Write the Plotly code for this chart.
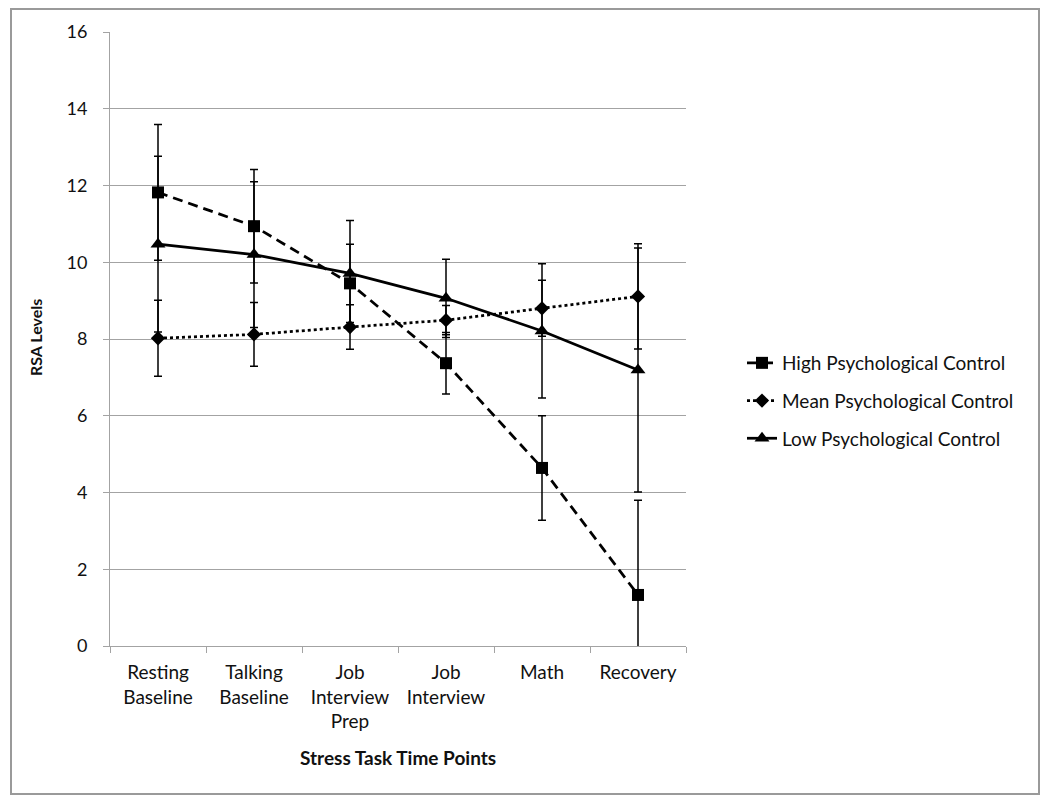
import plotly.graph_objects as go

# x categories (stress task time points)
time_points = ['Resting<br>Baseline', 'Talking<br>Baseline', 'Job<br>Interview<br>Prep',
               'Job<br>Interview', 'Math', 'Recovery']

# RSA means and error bar half-widths
high_pc = [11.82, 10.94, 9.45, 7.37, 4.64, 1.33]
high_pc_err = [1.77, 1.48, 1.02, 0.80, 1.36, 2.47]

mean_pc = [8.02, 8.12, 8.31, 8.49, 8.80, 9.11]
mean_pc_err = [0.99, 0.83, 0.58, 0.38, 0.73, 1.37]

low_pc = [10.47, 10.20, 9.71, 9.06, 8.21, 7.19]
low_pc_err = [2.29, 1.90, 1.38, 1.02, 1.75, 3.18]

y_ticks = [0, 2, 4, 6, 8, 10, 12, 14, 16]

FONT = 'Lato'
GRID = '#a3a3a3'
INK = '#111111'

# the page body adds an 8px margin, so the figure is 8px smaller each way
PAGE_OFF = 8
W, H = 1050 - PAGE_OFF, 808 - PAGE_OFF
# plot area in page pixels: x 110..686, y 32..646
PL, PR, PT, PB = 110, 686, 32, 646
PW, PH = PR - PL, PB - PT


def px_x(x):
  return (x - PL) / PW


def px_y(y):
  return (PB - y) / PH


def err(vals):
  return dict(type='data', array=vals, visible=True, color='black', thickness=1.5, width=4)


fig = go.Figure()

fig.add_trace(go.Scatter(
  x=time_points, y=high_pc, name='High Psychological Control',
  mode='lines+markers',
  line=dict(color='black', width=2.75, dash='10px,6px'),
  marker=dict(symbol='square', size=12, color='black'),
  error_y=err(high_pc_err),
  legendgroup='high'
))

fig.add_trace(go.Scatter(
  x=time_points, y=mean_pc, name='Mean Psychological Control',
  mode='lines+markers',
  line=dict(color='black', width=2.75, dash='3px,3px'),
  marker=dict(symbol='diamond', size=11, color='black'),
  error_y=err(mean_pc_err),
  legendgroup='mean'
))

fig.add_trace(go.Scatter(
  x=time_points, y=low_pc, name='Low Psychological Control',
  mode='lines+markers',
  line=dict(color='black', width=2.75),
  marker=dict(symbol='triangle-up', size=13, color='black'),
  error_y=err(low_pc_err),
  legendgroup='low'
))

fig.update_xaxes(
  type='category', range=[-0.5, 5.5],
  showgrid=False, showline=True, linecolor=GRID, linewidth=1,
  ticks='outside', tickson='boundaries', ticklen=6, tickcolor=GRID,
  ticklabelstandoff=9,
  tickfont=dict(family=FONT, size=19, color=INK)
)

fig.update_yaxes(
  range=[0, 16], tickvals=y_ticks,
  showgrid=True, gridcolor=GRID, gridwidth=1, zeroline=False,
  showline=True, linecolor=GRID, linewidth=1,
  ticks='outside', ticklen=6, tickcolor=GRID, ticklabelstandoff=12,
  tickfont=dict(family=FONT, size=18, color=INK)
)

# axis titles
fig.add_annotation(
  x=px_x(398), y=px_y(757), xref='paper', yref='paper',
  xanchor='center', yanchor='middle',
  text='<b>Stress Task Time Points</b>', showarrow=False,
  font=dict(family=FONT, size=19, color=INK)
)
fig.add_annotation(
  x=px_x(35), y=px_y(338), xref='paper', yref='paper',
  xanchor='center', yanchor='middle',
  text='<b>RSA Levels</b>', showarrow=False, textangle=-90,
  font=dict(family=FONT, size=16, color=INK)
)

# outer chart border
fig.add_shape(
  type='rect', xref='paper', yref='paper',
  x0=px_x(11), x1=px_x(1039), y0=px_y(794), y1=px_y(9),
  line=dict(color='#9a9a9a', width=2)
)

fig.update_layout(
  width=W, height=H,
  margin=dict(l=PL - PAGE_OFF, r=W - (PR - PAGE_OFF), t=PT - PAGE_OFF, b=H - (PB - PAGE_OFF)),
  plot_bgcolor='white', paper_bgcolor='white',
  showlegend=True,
  legend=dict(
    x=px_x(742), y=px_y(401), xanchor='left', yanchor='middle',
    traceorder='grouped', tracegroupgap=10,
    font=dict(family=FONT, size=19, color=INK),
    bgcolor='rgba(0,0,0,0)'
  )
)

fig.write_html('out.html')
